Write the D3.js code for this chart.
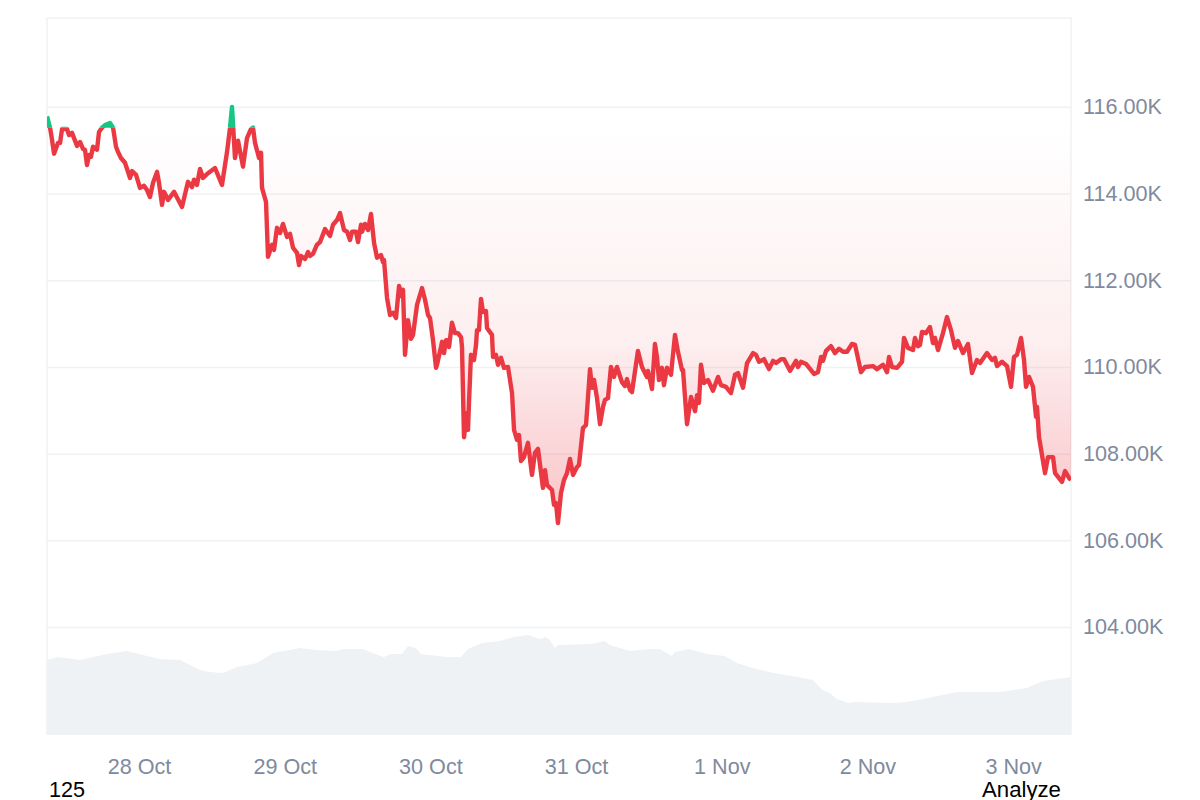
<!DOCTYPE html>
<html>
<head>
<meta charset="utf-8">
<script src="https://cdn.jsdelivr.net/npm/d3@7"></script>
<style>
  body { margin: 0; background: #fff; }
  text { font-family: "Liberation Sans", Arial, sans-serif; }
</style>
</head>
<body>
<div id="chart"></div>
<script>
// Data: hours are counted from 28 Oct 00:00, prices in thousands
const priceHours = [
  -15.16, -14.66, -14.33, -14, -13.34, -13.01, -12.68, -11.86, -11.53, -11.04,
  -10.21, -9.72, -9.23, -8.9, -8.57, -8.24, -7.91, -7.58, -6.92, -6.59,
  -6.1, -5.6, -4.78, -4.28, -3.79, -3.46, -2.97, -2.31, -1.48, -1.15,
  -0.49, 0.16, 0.82, 1.32, 1.81, 2.31, 2.97, 3.29, 3.79, 4.12,
  4.78, 5.77, 7.08, 8.07, 8.73, 9.06, 9.55, 10.05, 10.54, 11.2,
  12.52, 13.67, 14.5, 14.99, 15.32, 15.81, 16.31, 17.13, 17.79, 18.45,
  18.78, 19.11, 19.77, 20.1, 20.26, 20.92, 21.25, 21.91, 22.24, 22.73,
  23.23, 23.72, 24.38, 24.88, 25.37, 26.03, 26.36, 26.69, 27.35, 27.84,
  28.17, 28.66, 29.32, 29.82, 30.64, 31.47, 31.96, 32.62, 33.11, 33.77,
  34.27, 34.76, 35.09, 35.75, 36.08, 36.57, 36.74, 37.23, 37.73, 38.22,
  38.72, 39.21, 39.87, 40.2, 40.36, 40.86, 41.35, 41.85, 42.34, 42.84,
  43.33, 43.49, 43.82, 44.31, 44.81, 45.14, 45.8, 46.62, 47.12, 47.61,
  47.94, 48.43, 48.93, 49.09, 49.75, 49.92, 50.25, 50.58, 50.9, 51.07,
  51.56, 52.06, 52.55, 53.05, 53.21, 53.54, 54.03, 54.2, 54.36, 54.69,
  55.19, 55.52, 55.68, 56.01, 56.34, 56.67, 57.16, 57.33, 58.15, 58.32,
  58.81, 59.14, 59.64, 60.13, 60.79, 61.45, 61.78, 62.27, 62.6, 62.93,
  63.42, 64.08, 64.74, 65.23, 65.73, 66.55, 66.88, 67.21, 68.04, 68.36,
  68.69, 69.02, 69.52, 70.01, 70.51, 71, 71.5, 72.16, 72.48, 73.14,
  73.64, 74.3, 74.63, 74.96, 75.45, 75.95, 76.44, 76.77, 77.26, 77.75,
  78.25, 78.74, 79.56, 80.06, 80.39, 80.88, 81.21, 82.2, 82.86, 83.68,
  83.85, 84.51, 85, 85.33, 85.66, 86.15, 86.48, 86.98, 87.64, 88.3,
  88.79, 89.45, 89.62, 90.28, 90.94, 91.6, 91.93, 92.25, 92.58, 93.08,
  93.74, 94.56, 95.39, 95.88, 96.7, 97.53, 98.19, 98.68, 99.51, 100.17,
  101.16, 101.65, 102.14, 102.97, 103.79, 104.45, 104.95, 105.77, 106.27, 107.25,
  108.24, 108.57, 109.06, 109.89, 111.2, 111.86, 112.36, 112.68, 113.18, 114,
  114.66, 115.32, 115.98, 116.64, 117.46, 117.96, 118.95, 119.61, 120.92, 121.58,
  122.57, 123.23, 123.56, 124.05, 124.88, 125.7, 126.03, 126.69, 127.51, 127.84,
  128.34, 128.66, 129, 129.65, 130.31, 130.8, 131.13, 131.63, 132.45, 133.11,
  133.77, 134.43, 134.92, 135.75, 136.57, 137.23, 138.05, 138.55, 139.7, 140.53,
  141.02, 141.35, 142.17, 143, 143.66, 144.15, 144.65, 145.31, 145.8, 146.13,
  146.62, 147.28, 147.78, 147.94, 148.27, 149.26, 149.75, 150.58, 150.91, 152.06,
  152.56, 153.21, 153.54
];

const prices = [
  115.78, 115.52, 115.24, 114.92, 115.17, 115.17, 115.49, 115.49, 115.35, 115.4,
  115.1, 115.19, 115.03, 115.01, 114.66, 114.89, 114.85, 115.08, 115.01, 115.42,
  115.52, 115.58, 115.63, 115.52, 115.08, 114.96, 114.82, 114.71, 114.36, 114.52,
  114.43, 114.13, 114.18, 114.08, 113.92, 114.25, 114.5, 114.25, 113.74, 114.04,
  113.85, 114.04, 113.69, 114.27, 114.15, 114.32, 114.2, 114.57, 114.36, 114.45,
  114.59, 114.2, 114.96, 115.52, 116, 114.82, 115.22, 114.62, 115.28, 115.49,
  115.52, 115.17, 114.82, 114.94, 114.13, 113.81, 112.54, 112.82, 112.7, 113.21,
  113.09, 113.3, 113, 113.07, 112.75, 112.63, 112.35, 112.56, 112.49, 112.65,
  112.56, 112.61, 112.82, 112.88, 113.18, 113.02, 113.28, 113.39, 113.55, 113.16,
  113.12, 112.93, 113.12, 113.12, 112.88, 113.28, 113.12, 113.3, 113.16, 113.53,
  112.86, 112.52, 112.58, 112.42, 112.47, 111.59, 111.2, 111.25, 111.13, 111.87,
  111.62, 111.78, 110.28, 111.08, 110.65, 110.74, 111.43, 111.82, 111.55, 111.2,
  111.13, 110.62, 109.98, 110.05, 110.46, 110.58, 110.32, 110.62, 110.62, 110.46,
  111.02, 110.78, 110.78, 110.69, 110.46, 108.38, 108.94, 108.55, 109.17, 110.28,
  110.16, 110.51, 110.85, 110.85, 111.57, 111.27, 111.29, 110.9, 110.74, 110.23,
  110.28, 110.05, 110.21, 109.98, 110, 109.4, 108.55, 108.32, 108.43, 107.83,
  107.92, 108.25, 107.51, 108.02, 108.11, 107.21, 107.62, 107.28, 107.16, 106.82,
  106.86, 106.4, 107.09, 107.39, 107.55, 107.88, 107.51, 107.69, 107.74, 108.59,
  108.66, 109.95, 109.52, 109.7, 109.28, 108.68, 109.08, 109.24, 109.28, 110,
  109.77, 110, 109.65, 109.56, 109.72, 109.47, 109.42, 110.37, 110, 109.77,
  109.91, 109.49, 110.53, 110.23, 109.7, 109.98, 109.58, 109.98, 109.82, 110.74,
  110.35, 109.93, 109.93, 108.68, 109.31, 108.98, 109.35, 109.17, 110.05, 109.63,
  109.7, 109.45, 109.77, 109.58, 109.54, 109.4, 109.82, 109.86, 109.52, 110.09,
  110.32, 110.28, 110.12, 110.18, 109.95, 110.14, 110.09, 110.18, 110.18, 109.91,
  110.14, 110, 110.12, 110.07, 109.84, 109.88, 110.23, 110.14, 110.37, 110.48,
  110.32, 110.42, 110.35, 110.35, 110.53, 110.51, 109.88, 110, 110.02, 109.95,
  110.05, 109.88, 110.23, 110, 109.98, 110.12, 110.67, 110.44, 110.39, 110.67,
  110.48, 110.51, 110.81, 110.78, 110.92, 110.55, 110.67, 110.39, 110.78, 111.15,
  110.85, 110.44, 110.6, 110.32, 110.53, 109.86, 110.16, 110.09, 110.32, 110.16,
  110.21, 110.02, 110.12, 110.02, 109.54, 110.23, 110.28, 110.67, 110.16, 109.54,
  109.77, 109.54, 108.85, 109.08, 108.38, 107.55, 107.92, 107.92, 107.55, 107.35,
  107.6, 107.44, 107.39
];

const volumeHours = [
  -15.16, -13.51, -9.72, -5.27, -1.98, 0.66, 3.46, 6.75, 10.05, 11.69,
  13.83, 16.14, 19.43, 22.07, 26.52, 29.15, 32.28, 33.76, 36.89, 38.87,
  40.35, 41.5, 43.32, 44.3, 45.62, 46.45, 50.73, 53.03, 54.19, 56.49,
  59.46, 61.76, 64.07, 66.04, 67.03, 67.69, 68.5, 69, 74.44, 76.75,
  77.57, 80.87, 84.33, 85.8, 87.79, 88.28, 90.59, 93.55, 96.5, 98.49,
  101.13, 104.58, 108.54, 111, 112.65, 113.8, 114.96, 116.94, 117.6, 124.18,
  126.49, 130.77, 134.72, 141.8, 146.25, 148.89, 153.54
];

const volumes = [
  75, 78, 75, 81, 84, 80, 76, 75, 65, 63,
  62, 68, 72, 82, 87, 85, 84, 86, 86, 81,
  78, 81, 81, 89, 87, 81, 78, 78, 86, 92,
  94, 98, 100, 96, 98, 95, 87, 90, 91, 94,
  90, 84, 86, 86, 79, 83, 86, 81, 79, 72,
  67, 62, 58, 55, 45, 42, 36, 32, 33, 32,
  33, 38, 43, 43, 47, 54, 58
];

const basePrice = 115.52;
const priceTicks = [104, 106, 108, 110, 112, 114, 116];
const dayTicks = [0, 24, 48, 72, 96, 120, 144];
const dayLabels = ['28 Oct', '29 Oct', '30 Oct', '31 Oct', '1 Nov', '2 Nov', '3 Nov'];

const priceData = priceHours.map((h, i) => ({ h, p: prices[i] }));
const volumeData = volumeHours.map((h, i) => ({ h, v: volumes[i] }));

const plotLeft = 47, plotRight = 1071, plotTop = 18, plotBottom = 735;
const red = '#ea3943', green = '#16c784', grey = '#808a9d', gridColor = '#eff2f5';

const svg = d3.select('#chart').append('svg')
    .attr('width', 1200)
    .attr('height', 800);

const x = d3.scaleLinear().domain([-15.16, 153.54]).range([plotLeft, plotRight]);
const y = d3.scaleLinear().domain([101.51, 118.05]).range([plotBottom, plotTop]);
const yVol = d3.scaleLinear().domain([0, 100]).range([plotBottom, plotBottom - 100]);

// Clip regions above and below the opening price
const defs = svg.append('defs');
defs.append('clipPath').attr('id', 'above').append('rect')
    .attr('x', plotLeft).attr('y', plotTop)
    .attr('width', plotRight - plotLeft).attr('height', y(basePrice) - plotTop);
defs.append('clipPath').attr('id', 'below').append('rect')
    .attr('x', plotLeft).attr('y', y(basePrice))
    .attr('width', plotRight - plotLeft).attr('height', plotBottom - y(basePrice));

const redFill = defs.append('linearGradient')
    .attr('id', 'red-fill')
    .attr('gradientUnits', 'userSpaceOnUse')
    .attr('x1', 0).attr('x2', 0)
    .attr('y1', y(basePrice)).attr('y2', y(106.4));
redFill.append('stop').attr('offset', '0%').attr('stop-color', red).attr('stop-opacity', 0);
redFill.append('stop').attr('offset', '55%').attr('stop-color', red).attr('stop-opacity', 0.085);
redFill.append('stop').attr('offset', '100%').attr('stop-color', red).attr('stop-opacity', 0.3);

// Volume
svg.append('path')
    .datum(volumeData)
    .attr('fill', gridColor)
    .attr('d', d3.area().x(d => x(d.h)).y0(plotBottom).y1(d => yVol(d.v)));

// Frame
svg.append('path')
    .attr('fill', 'none')
    .attr('stroke', gridColor)
    .attr('stroke-width', 1.5)
    .attr('d', d3.line()([[plotLeft, plotBottom], [plotLeft, plotTop], [plotRight, plotTop], [plotRight, plotBottom]]));

// Axes, the y ticks double as grid lines
const yAxis = svg.append('g')
    .attr('transform', `translate(${plotRight},0)`)
    .call(d3.axisRight(y).tickValues(priceTicks).tickSize(-(plotRight - plotLeft)).tickPadding(12)
        .tickFormat(d => d3.format('.2f')(d) + 'K'));
yAxis.select('.domain').remove();
yAxis.selectAll('line').attr('stroke', gridColor).attr('stroke-width', 1.5);
yAxis.selectAll('text').attr('fill', grey).style('font-size', '21.6px');

const xAxis = svg.append('g')
    .attr('transform', `translate(0,${plotBottom})`)
    .call(d3.axisBottom(x).tickValues(dayTicks).tickSize(0).tickPadding(24)
        .tickFormat((d, i) => dayLabels[i]));
xAxis.select('.domain').remove();
xAxis.selectAll('text').attr('fill', grey).style('font-size', '21.6px');

// Areas between the opening price and the line, flat where the line is on the other side
svg.append('path')
    .datum(priceData)
    .attr('fill', 'url(#red-fill)')
    .attr('d', d3.area().x(d => x(d.h)).y0(y(basePrice)).y1(d => y(Math.min(d.p, basePrice))));
svg.append('path')
    .datum(priceData)
    .attr('fill', green)
    .attr('d', d3.area().x(d => x(d.h)).y0(y(basePrice)).y1(d => y(Math.max(d.p, basePrice))));

// Price line, green above the opening price and red below it
const line = d3.line().x(d => x(d.h)).y(d => y(d.p));
[['above', green], ['below', red]].forEach(([clip, color]) => {
    svg.append('path')
        .datum(priceData)
        .attr('clip-path', `url(#${clip})`)
        .attr('fill', 'none')
        .attr('stroke', color)
        .attr('stroke-width', 4.4)
        .attr('stroke-linejoin', 'round')
        .attr('d', line);
});

// Text left over below the chart
svg.append('text').attr('x', 49).attr('y', 797).style('font-size', '21.6px').text('125');
svg.append('text').attr('x', 982).attr('y', 797).style('font-size', '22.2px').text('Analyze');
</script>
</body>
</html>
